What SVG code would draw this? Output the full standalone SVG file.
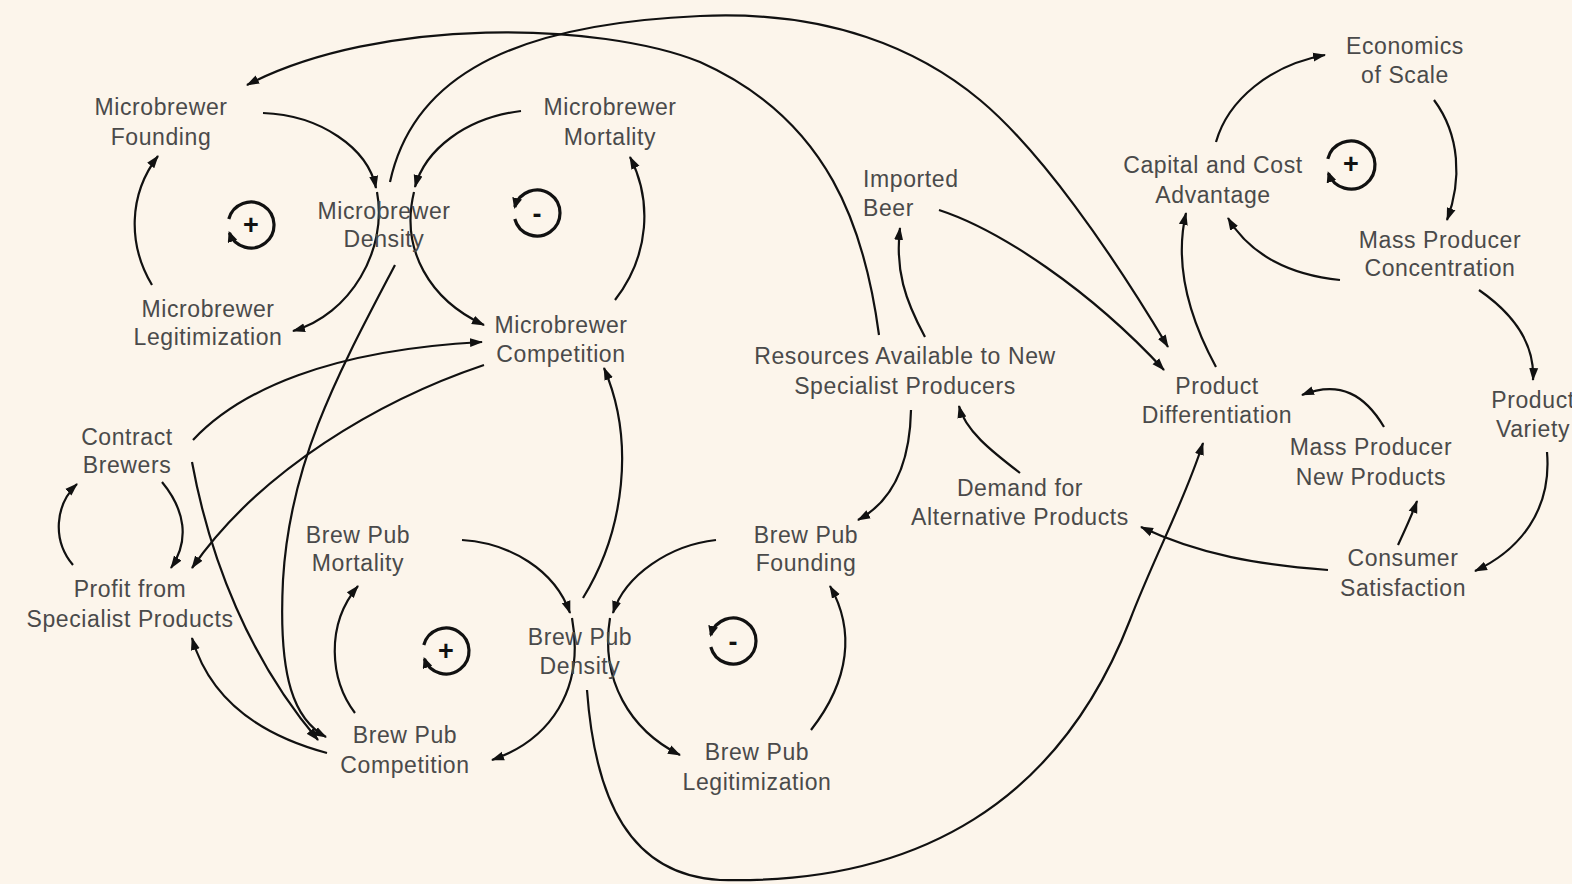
<svg xmlns="http://www.w3.org/2000/svg" width="1572" height="884" viewBox="0 0 1572 884">
<defs>
<marker id="ah" markerUnits="userSpaceOnUse" markerWidth="14" markerHeight="10" viewBox="0 0 14 10" refX="12" refY="5" orient="auto"><path d="M0,0.5 L13,5 L0,9.5 z" fill="#111"/></marker>
<marker id="lh" markerUnits="userSpaceOnUse" markerWidth="12" markerHeight="10" viewBox="0 0 12 10" refX="9" refY="5" orient="auto"><path d="M0,0 L11,5 L0,10 z" fill="#111"/></marker>
<style>
.n text{font-family:"Liberation Sans",Arial,sans-serif;font-size:23px;letter-spacing:0.6px;fill:#4a4a4a;text-anchor:middle}
.c path{fill:none;stroke:#111;stroke-width:2.2;marker-end:url(#ah)}
.l path{fill:none;stroke:#111;stroke-width:3.2;marker-end:url(#lh)}
.l text{font-family:"Liberation Sans",Arial,sans-serif;font-size:27px;font-weight:bold;fill:#111;text-anchor:middle}
</style>
</defs>
<rect width="1572" height="884" fill="#fcf5eb"/>
<g id="connectors" class="c">
<path d="M263,113 C320,115 368,148 376,188"/>
<path d="M377,192 C388,250 350,315 293,331"/>
<path d="M152,285 C128,245 128,195 158,156"/>
<path d="M521,111 C465,118 425,150 415,187"/>
<path d="M414,192 C400,250 430,300 484,325"/>
<path d="M615,300 C650,255 652,200 630,157"/>
<path d="M390,182 C410,90 490,25 700,16 C830,10 920,50 980,100 C1040,150 1110,250 1168,347"/>
<path d="M879,335 C865,230 830,120 700,62 C600,22 380,16 247,85"/>
<path d="M939,210 C1000,230 1090,290 1164,370"/>
<path d="M925,337 C905,300 895,270 900,228"/>
<path d="M1216,367 C1185,310 1175,260 1186,213"/>
<path d="M1216,142 C1228,100 1270,65 1325,55"/>
<path d="M1434,100 C1460,135 1462,180 1447,220"/>
<path d="M1340,280 C1290,275 1250,255 1228,218"/>
<path d="M1479,290 C1515,315 1535,345 1533,380"/>
<path d="M1384,427 C1365,395 1340,380 1302,395"/>
<path d="M911,410 C910,460 895,500 858,520"/>
<path d="M1020,473 C990,450 965,430 959,406"/>
<path d="M1328,570 C1260,565 1200,555 1141,527"/>
<path d="M1398,545 C1405,530 1412,515 1417,501"/>
<path d="M1547,452 C1552,510 1520,550 1475,571"/>
<path d="M587,690 C595,800 630,875 720,880 C920,885 1060,800 1130,620 C1155,555 1185,500 1203,443"/>
<path d="M583,598 C625,530 635,440 604,368"/>
<path d="M462,540 C510,543 555,570 570,613"/>
<path d="M572,618 C585,690 550,740 492,760"/>
<path d="M355,713 C330,680 325,625 358,586"/>
<path d="M716,540 C670,545 625,575 613,613"/>
<path d="M610,618 C600,680 630,730 680,755"/>
<path d="M811,730 C850,680 855,630 830,586"/>
<path d="M395,265 C340,370 290,460 283,580 C278,680 295,720 326,737"/>
<path d="M192,462 C210,560 250,660 318,740"/>
<path d="M193,440 C240,390 330,350 482,342"/>
<path d="M484,365 C380,400 260,470 192,568"/>
<path d="M162,482 C185,510 190,540 171,568"/>
<path d="M73,565 C52,540 55,505 77,484"/>
<path d="M327,753 C260,735 210,700 192,638"/>
</g>
<g id="loops" class="l">
<g id="loop1"><path d="M228.8,219 A23,23 0 1 1 229.4,232.9"/><text x="251" y="234">+</text></g>
<g id="loop2"><path d="M514.8,219 A23,23 0 1 0 514.8,207"/><text x="537" y="223">-</text></g>
<g id="loop3"><path d="M423.8,645 A23,23 0 1 1 424.4,658.9"/><text x="446" y="660">+</text></g>
<g id="loop4"><path d="M710.8,647 A23,23 0 1 0 710.8,635"/><text x="733" y="651">-</text></g>
<g id="loop5"><path d="M1327.8,158.8 A24,24 0 1 1 1328.4,173.2"/><text x="1351" y="173">+</text></g>
</g>
<g id="mf" class="n"><text x="161" y="115">Microbrewer</text><text x="161" y="145">Founding</text></g>
<g id="mm" class="n"><text x="610" y="115">Microbrewer</text><text x="610" y="145">Mortality</text></g>
<g id="md" class="n"><text x="384" y="219">Microbrewer</text><text x="384" y="247">Density</text></g>
<g id="ml" class="n"><text x="208" y="317">Microbrewer</text><text x="208" y="345">Legitimization</text></g>
<g id="mc" class="n"><text x="561" y="333">Microbrewer</text><text x="561" y="362">Competition</text></g>
<g id="cb" class="n"><text x="127" y="445">Contract</text><text x="127" y="473">Brewers</text></g>
<g id="pf" class="n"><text x="130" y="597">Profit from</text><text x="130" y="627">Specialist Products</text></g>
<g id="bm" class="n"><text x="358" y="543">Brew Pub</text><text x="358" y="571">Mortality</text></g>
<g id="bd" class="n"><text x="580" y="645">Brew Pub</text><text x="580" y="674">Density</text></g>
<g id="bc" class="n"><text x="405" y="743">Brew Pub</text><text x="405" y="773">Competition</text></g>
<g id="bf" class="n"><text x="806" y="543">Brew Pub</text><text x="806" y="571">Founding</text></g>
<g id="bl" class="n"><text x="757" y="760">Brew Pub</text><text x="757" y="790">Legitimization</text></g>
<g id="ib" class="n"><text x="863" y="187" style="text-anchor:start">Imported</text><text x="863" y="216" style="text-anchor:start">Beer</text></g>
<g id="ra" class="n"><text x="905" y="364">Resources Available to New</text><text x="905" y="394">Specialist Producers</text></g>
<g id="da" class="n"><text x="1020" y="496">Demand for</text><text x="1020" y="525">Alternative Products</text></g>
<g id="es" class="n"><text x="1405" y="54">Economics</text><text x="1405" y="83">of Scale</text></g>
<g id="cc" class="n"><text x="1213" y="173">Capital and Cost</text><text x="1213" y="203">Advantage</text></g>
<g id="mpc" class="n"><text x="1440" y="248">Mass Producer</text><text x="1440" y="276">Concentration</text></g>
<g id="pd" class="n"><text x="1217" y="394">Product</text><text x="1217" y="423">Differentiation</text></g>
<g id="mpn" class="n"><text x="1371" y="455">Mass Producer</text><text x="1371" y="485">New Products</text></g>
<g id="pv" class="n"><text x="1533" y="408">Product</text><text x="1533" y="437">Variety</text></g>
<g id="cs" class="n"><text x="1403" y="566">Consumer</text><text x="1403" y="596">Satisfaction</text></g>
</svg>
